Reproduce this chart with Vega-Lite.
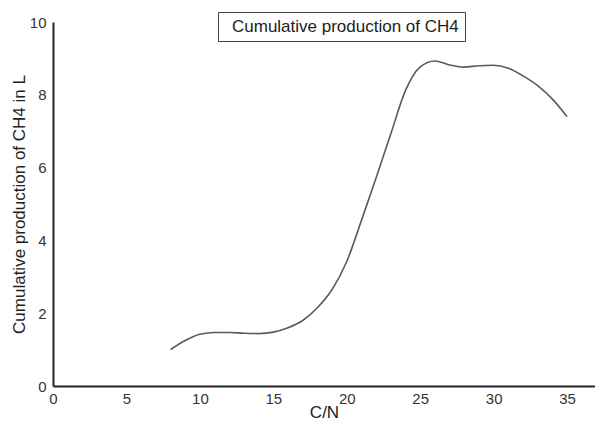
{
  "$schema": "https://vega.github.io/schema/vega-lite/v6.json",
  "width": 542,
  "height": 364,
  "autosize": {"type": "none"},
  "padding": {"left": 53, "top": 22, "right": 0, "bottom": 36},
  "background": "white",
  "config": {
    "view": {"stroke": null},
    "font": "Liberation Sans"
  },
  "data": {
    "values": [
      {"cn": 8, "ch4": 1.0, "series": "Cumulative production of CH4"},
      {"cn": 9, "ch4": 1.25, "series": "Cumulative production of CH4"},
      {"cn": 10, "ch4": 1.42, "series": "Cumulative production of CH4"},
      {"cn": 11, "ch4": 1.47, "series": "Cumulative production of CH4"},
      {"cn": 12, "ch4": 1.47, "series": "Cumulative production of CH4"},
      {"cn": 13, "ch4": 1.45, "series": "Cumulative production of CH4"},
      {"cn": 14, "ch4": 1.44, "series": "Cumulative production of CH4"},
      {"cn": 15, "ch4": 1.48, "series": "Cumulative production of CH4"},
      {"cn": 16, "ch4": 1.6, "series": "Cumulative production of CH4"},
      {"cn": 17, "ch4": 1.8, "series": "Cumulative production of CH4"},
      {"cn": 18, "ch4": 2.15, "series": "Cumulative production of CH4"},
      {"cn": 19, "ch4": 2.65, "series": "Cumulative production of CH4"},
      {"cn": 20, "ch4": 3.42, "series": "Cumulative production of CH4"},
      {"cn": 21, "ch4": 4.55, "series": "Cumulative production of CH4"},
      {"cn": 22, "ch4": 5.72, "series": "Cumulative production of CH4"},
      {"cn": 23, "ch4": 6.93, "series": "Cumulative production of CH4"},
      {"cn": 24, "ch4": 8.12, "series": "Cumulative production of CH4"},
      {"cn": 25, "ch4": 8.77, "series": "Cumulative production of CH4"},
      {"cn": 26, "ch4": 8.93, "series": "Cumulative production of CH4"},
      {"cn": 27, "ch4": 8.82, "series": "Cumulative production of CH4"},
      {"cn": 28, "ch4": 8.76, "series": "Cumulative production of CH4"},
      {"cn": 29, "ch4": 8.8, "series": "Cumulative production of CH4"},
      {"cn": 30, "ch4": 8.81, "series": "Cumulative production of CH4"},
      {"cn": 31, "ch4": 8.73, "series": "Cumulative production of CH4"},
      {"cn": 32, "ch4": 8.52, "series": "Cumulative production of CH4"},
      {"cn": 33, "ch4": 8.25, "series": "Cumulative production of CH4"},
      {"cn": 34, "ch4": 7.88, "series": "Cumulative production of CH4"},
      {"cn": 35, "ch4": 7.4, "series": "Cumulative production of CH4"}
    ]
  },
  "mark": {"type": "line", "interpolate": "monotone", "strokeWidth": 1.6, "clip": false},
  "encoding": {
    "x": {
      "field": "cn",
      "type": "quantitative",
      "scale": {"domain": [0, 36.9], "nice": false, "zero": true},
      "axis": {
        "title": "C/N",
        "values": [0, 5, 10, 15, 20, 25, 30, 35],
        "grid": false,
        "ticks": false,
        "domainColor": "#222",
        "domainWidth": 2,
        "labelFontSize": 15,
        "labelColor": "#333",
        "labelPadding": 5,
        "labelFlush": false,
        "titleFontSize": 17,
        "titleColor": "#222",
        "titleFontWeight": "normal",
        "titlePadding": -2
      }
    },
    "y": {
      "field": "ch4",
      "type": "quantitative",
      "scale": {"domain": [0, 10], "nice": false},
      "axis": {
        "title": "Cumulative production of CH4 in L",
        "values": [0, 2, 4, 6, 8, 10],
        "grid": false,
        "ticks": false,
        "domainColor": "#222",
        "domainWidth": 2,
        "labelFontSize": 15,
        "labelColor": "#333",
        "labelPadding": 7,
        "labelFlush": false,
        "titleFontSize": 17,
        "titleColor": "#222",
        "titleFontWeight": "normal",
        "titlePadding": 1
      }
    },
    "color": {
      "field": "series",
      "type": "nominal",
      "scale": {"range": ["#5a5a5a"]},
      "legend": {
        "title": null,
        "orient": "none",
        "legendX": 165,
        "legendY": -10,
        "strokeColor": "#444",
        "fillColor": "white",
        "padding": 6,
        "symbolSize": 0,
        "symbolOpacity": 0,
        "symbolStrokeWidth": 0,
        "labelOffset": -9,
        "labelExpr": "datum.label + '\u00a0'",
        "labelFontSize": 17,
        "labelColor": "#222",
        "labelLimit": 400
      }
    }
  }
}
